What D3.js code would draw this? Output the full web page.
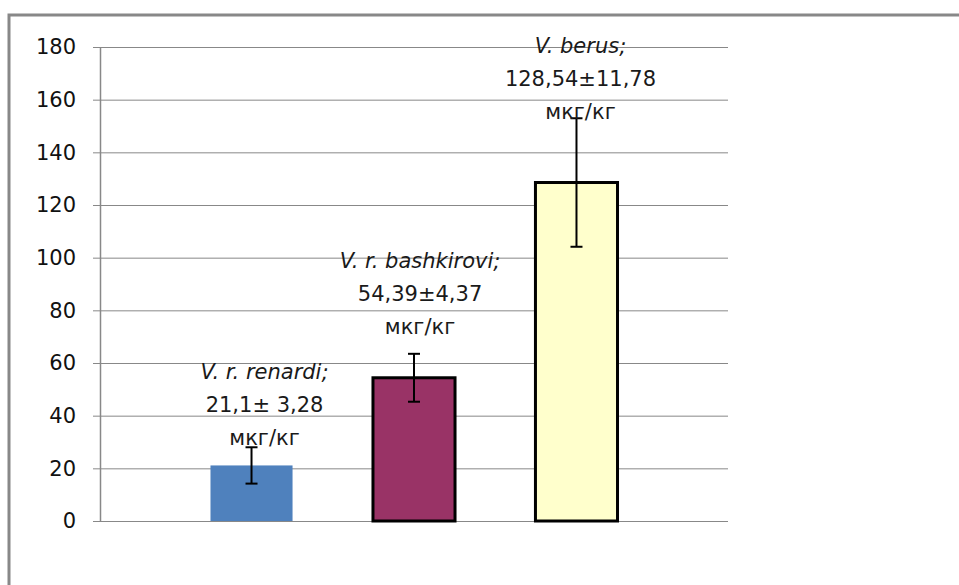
<!DOCTYPE html>
<html>
<head>
<meta charset="utf-8">
<script src="https://cdn.jsdelivr.net/npm/d3@7"></script>
<style>
  body { margin: 0; background: #fff; }
  svg { display: block; }
  text { font-family: "DejaVu Sans", sans-serif; }
</style>
</head>
<body>
<div id="chart"></div>
<script>
// series (one category, three series)
const species   = ["V. r. renardi;", "V. r. bashkirovi;", "V. berus;"]
const values    = [21.1, 54.39, 128.54]
const errBars   = [6.9, 9.1, 24.4]          // half-length of drawn error bars
const valLabels = ["21,1± 3,28", "54,39±4,37", "128,54±11,78"]
const unitLabel = "мкг/кг"
const yTicks    = [0, 20, 40, 60, 80, 100, 120, 140, 160, 180]

const fills   = ["#4F81BD", "#993366", "#FFFFCC"]
const strokes = ["none", "#000", "#000"]
// manual data-label placement (px, relative to bar top / bar centre)
const labelDy = [-28, -51, -71]
const labelDx = [13, 6, 4]

const W = 959, H = 585

let svg = d3.select("#chart")
    .append("svg")
    .attr("width", W)
    .attr("height", H)

// outer frame (only top and left edges visible)
svg.append("path")
    .attr("d", "M9," + H + "V15H" + W)
    .attr("fill", "none")
    .attr("stroke", "#888")
    .attr("stroke-width", 3)

let y = d3.scaleLinear().domain([0, 180]).range([521, 47])
let x = d3.scaleBand()
    .domain(species)
    .range([100, 728])
    .paddingInner(0.495)
    .paddingOuter(0.68)

// gridlines + axis
let axis = svg.append("g")
    .attr("transform", "translate(100,0)")
    .call(d3.axisLeft(y).tickValues(yTicks).tickSize(-628).tickSizeOuter(0).tickPadding(24))
axis.select(".domain").attr("stroke", "#888").attr("stroke-width", 1.5)
axis.selectAll(".tick line")
    .attr("x1", -7)
    .attr("stroke", "#888")
axis.selectAll(".tick text")
    .attr("font-size", 21)
    .attr("font-family", "DejaVu Sans, sans-serif")
    .attr("fill", "#111")

// bars
svg.append("g")
    .selectAll("rect")
    .data(species)
    .enter()
    .append("rect")
        .attr("x", (d) => x(d))
        .attr("width", x.bandwidth())
        .attr("y", (d, i) => y(values[i]))
        .attr("height", (d, i) => y(0) - y(values[i]))
        .attr("fill", (d, i) => fills[i])
        .attr("stroke", (d, i) => strokes[i])
        .attr("stroke-width", 3)

// error bars
let eb = svg.append("g")
    .selectAll("g")
    .data(species)
    .enter()
    .append("g")
    .attr("stroke", "#000")
    .attr("stroke-width", 2)
eb.append("line")
    .attr("x1", (d) => x(d) + x.bandwidth() / 2)
    .attr("x2", (d) => x(d) + x.bandwidth() / 2)
    .attr("y1", (d, i) => y(values[i] + errBars[i]))
    .attr("y2", (d, i) => y(values[i] - errBars[i]))
eb.append("line")
    .attr("x1", (d) => x(d) + x.bandwidth() / 2 - 6)
    .attr("x2", (d) => x(d) + x.bandwidth() / 2 + 6)
    .attr("y1", (d, i) => y(values[i] + errBars[i]))
    .attr("y2", (d, i) => y(values[i] + errBars[i]))
eb.append("line")
    .attr("x1", (d) => x(d) + x.bandwidth() / 2 - 6)
    .attr("x2", (d) => x(d) + x.bandwidth() / 2 + 6)
    .attr("y1", (d, i) => y(values[i] - errBars[i]))
    .attr("y2", (d, i) => y(values[i] - errBars[i]))

// data labels (3 lines each)
let lab = svg.append("g")
    .selectAll("text")
    .data(species)
    .enter()
    .append("text")
        .attr("text-anchor", "middle")
        .attr("font-size", 21)
        .attr("fill", "#1a1a1a")
        .attr("transform", (d, i) =>
            "translate(" + (x(d) + x.bandwidth() / 2 + labelDx[i]) + "," + (y(values[i]) + labelDy[i]) + ")")

lab.append("tspan")
    .attr("x", 0).attr("y", -66).attr("dy", "0.35em")
    .attr("font-style", "italic")
    .text((d) => d)
lab.append("tspan")
    .attr("x", 0).attr("y", -33).attr("dy", "0.35em")
    .text((d, i) => valLabels[i])
lab.append("tspan")
    .attr("x", 0).attr("y", 0).attr("dy", "0.35em")
    .text(unitLabel)
</script>
</body>
</html>
